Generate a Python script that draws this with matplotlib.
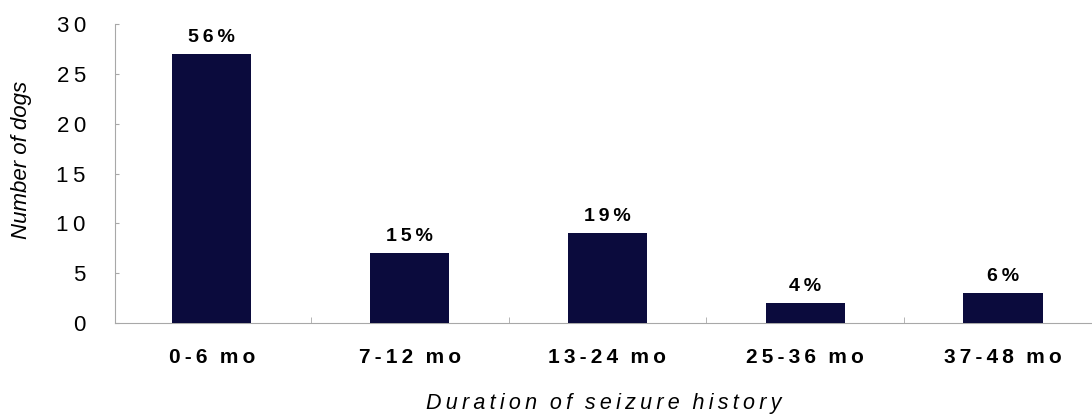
import matplotlib
matplotlib.use("Agg")
import matplotlib.pyplot as plt
from matplotlib.ticker import FixedLocator, FuncFormatter

# duration groups and counts of dogs in each
categories = ["0-6 mo", "7-12 mo", "13-24 mo", "25-36 mo", "37-48 mo"]
dogs = [27, 7, 9, 2, 3]
percent = ["56%", "15%", "19%", "4%", "6%"]
yticks = [0, 5, 10, 15, 20, 25, 30]

BAR = "#0b0b3d"
GRID = "#a8a8a8"
FONT = "Liberation Sans"


def spaced(s, gap="\u2009"):
    # old-style letter spaced labels
    return (gap * 3).join(gap.join(p) for p in s.split(" "))


fig = plt.figure(figsize=(10.92, 4.18), dpi=100)
ax = fig.add_axes([115 / 1092, 1 - 323 / 418, 1 - 115 / 1092, (323 - 24) / 418])

x = list(range(len(categories)))
ax.bar(x, dogs, width=0.4, color=BAR, zorder=3)

for xi, v, p in zip(x, dogs, percent):
    ax.annotate(spaced(p), (xi, v), xytext=(0, 6), textcoords="offset points",
                ha="center", va="bottom", fontsize=14, fontweight="bold",
                family=FONT)

ax.set_xlim(-0.49, 4.45)
ax.set_ylim(0, 30)

for s in ["top", "right"]:
    ax.spines[s].set_visible(False)
for s in ["left", "bottom"]:
    ax.spines[s].set_color(GRID)
    ax.spines[s].set_linewidth(0.8)

ax.yaxis.set_major_locator(FixedLocator(yticks))
ax.yaxis.set_major_formatter(FuncFormatter(lambda v, pos: spaced(str(int(v)))))
ax.tick_params(axis="y", direction="in", length=3, color=GRID, pad=21,
               labelsize=16)
for t in ax.get_yticklabels():
    t.set_family(FONT)

ax.set_xticks(x)
ax.set_xticklabels([spaced(c) for c in categories], fontsize=15,
                   fontweight="bold", family=FONT)
ax.tick_params(axis="x", which="major", length=0, pad=18)
ax.set_xticks([0.5, 1.5, 2.5, 3.5], minor=True)
ax.tick_params(axis="x", which="minor", direction="in", length=4, color=GRID)

ax.set_ylabel("Number of dogs", fontsize=16, fontstyle="italic", family=FONT)
ax.yaxis.set_label_coords(-0.085, 0.545)
ax.set_xlabel(spaced("Duration of seizure history"), fontsize=15.5,
              fontstyle="italic", family=FONT, labelpad=19)

fig.savefig("out.png", dpi=100)
